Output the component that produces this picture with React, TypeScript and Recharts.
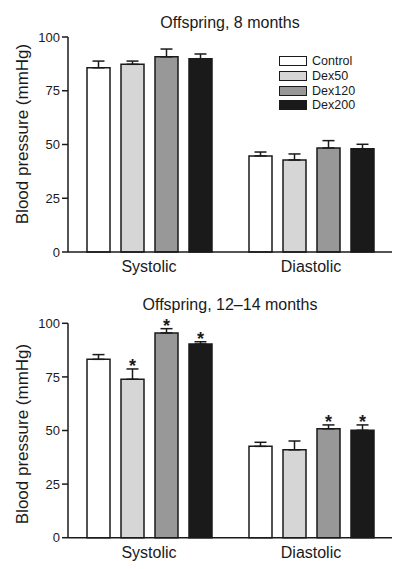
import { BarChart, Bar, XAxis, YAxis, ErrorBar, LabelList } from 'recharts'

const groups = ['Systolic', 'Diastolic']
const seriesNames = ['Control', 'Dex50', 'Dex120', 'Dex200']
const seriesFill = ['#ffffff', '#d6d6d6', '#989898', '#1a1a1a']
const yTicks = [0, 25, 50, 75, 100]

// Offspring, 8 months
const control8 = [85.7, 44.7]
const control8Err = [3.1, 1.8]
const dex50_8 = [87.3, 42.8]
const dex50_8Err = [1.5, 2.8]
const dex120_8 = [90.8, 48.4]
const dex120_8Err = [3.6, 3.4]
const dex200_8 = [89.9, 48.0]
const dex200_8Err = [2.2, 2.1]

// Offspring, 12-14 months
const control12 = [83.2, 42.6]
const control12Err = [2.2, 1.9]
const dex50_12 = [73.9, 41.0]
const dex50_12Err = [4.8, 4.1]
const dex120_12 = [95.5, 50.8]
const dex120_12Err = [2.0, 1.8]
const dex200_12 = [90.3, 50.1]
const dex200_12Err = [1.1, 2.5]

// significance markers (*) for 12-14 months
const control12Sig = [false, false]
const dex50_12Sig = [true, false]
const dex120_12Sig = [true, true]
const dex200_12Sig = [true, true]
const noSig = [false, false]

const FONT = '"Liberation Sans", Arial, Helvetica, sans-serif'
const INK = '#1a1a1a'

const buildRows = (means: number[][], errs: number[][]) =>
  groups.map((g, i) => {
    const row: any = { group: g }
    seriesNames.forEach((s, k) => {
      row[s] = means[k][i]
      row[s + '_err'] = [0, errs[k][i]]
    })
    return row
  })

const data8 = buildRows(
  [control8, dex50_8, dex120_8, dex200_8],
  [control8Err, dex50_8Err, dex120_8Err, dex200_8Err]
)
const data12 = buildRows(
  [control12, dex50_12, dex120_12, dex200_12],
  [control12Err, dex50_12Err, dex120_12Err, dex200_12Err]
)

const starLabel = (sig: boolean[], err: number[]) => (props: any) => {
  const { x, y, width, height, value, index } = props
  if (!sig[index]) return null
  const top = y - (err[index] * height) / value
  return (
    <text
      key={'star' + index}
      x={x + width / 2}
      y={top + 3.5}
      textAnchor="middle"
      fontSize={18}
      fontWeight="bold"
      fontFamily={FONT}
      fill={INK}
    >
      *
    </text>
  )
}

// legend drawn as plain html so it doesn't eat into the plot area
const LegendBox = () => (
  <div
    style={{
      position: 'absolute',
      left: 271,
      top: 46,
      fontFamily: FONT,
      fontSize: 12.5,
      color: INK,
    }}
  >
    {seriesNames.map((s, i) => (
      <div key={s} style={{ display: 'flex', alignItems: 'center', height: 14.7 }}>
        <div
          style={{
            width: 26,
            height: 8,
            background: seriesFill[i],
            border: `1.5px solid ${INK}`,
            marginRight: 5,
          }}
        />
        <span>{s}</span>
      </div>
    ))}
  </div>
)

interface PanelProps {
  title: string
  data: any[]
  height: number
  top: number
  xAxisHeight: number
  titleY: number
  yLabelY: number
  sigs: boolean[][]
  errs: number[][]
  showLegend?: boolean
}

const Panel = ({ title, data, height, top, xAxisHeight, titleY, yLabelY, sigs, errs, showLegend }: PanelProps) => (
  <div style={{ position: 'relative', width: 403, height }}>
    <div
      style={{
        position: 'absolute',
        left: 122,
        width: 200,
        top: titleY - 10,
        textAlign: 'center',
        fontFamily: FONT,
        fontSize: 16,
        color: INK,
        whiteSpace: 'nowrap',
        lineHeight: '20px',
      }}
    >
      {title}
    </div>
    <div
      style={{
        position: 'absolute',
        left: 15 - 110,
        top: yLabelY - 10,
        width: 220,
        height: 20,
        lineHeight: '20px',
        textAlign: 'center',
        transform: 'rotate(-90deg)',
        fontFamily: FONT,
        fontSize: 17,
        color: INK,
        whiteSpace: 'nowrap',
      }}
    >
      Blood pressure (mmHg)
    </div>
    {showLegend && <LegendBox />}
    <BarChart
      width={403}
      height={height}
      data={data}
      margin={{ top, right: 19, bottom: 0, left: 20 }}
      barSize={23}
      barGap={11}
    >
      <XAxis
        dataKey="group"
        height={xAxisHeight}
        tickLine={false}
        tickMargin={3}
        axisLine={{ stroke: INK, strokeWidth: 1.5 }}
        tick={{ fill: INK, fontSize: 16, fontFamily: FONT }}
      />
      <YAxis
        width={40}
        domain={[0, 100]}
        ticks={yTicks}
        axisLine={{ stroke: INK, strokeWidth: 1.5 }}
        tickLine={{ stroke: INK, strokeWidth: 1.5 }}
        tickSize={6}
        tick={{ fill: INK, fontSize: 13, fontFamily: FONT }}
      />
      {seriesNames.map((s, k) => (
        <Bar
          key={s}
          dataKey={s}
          fill={seriesFill[k]}
          stroke={INK}
          strokeWidth={1.5}
          isAnimationActive={false}
        >
          <ErrorBar dataKey={s + '_err'} width={6} stroke={INK} strokeWidth={1.5} direction="y" />
          <LabelList dataKey={s} content={starLabel(sigs[k], errs[k])} />
        </Bar>
      ))}
    </BarChart>
  </div>
)

export default function App() {
  return (
    <div style={{ width: 403 }}>
      <Panel
        title="Offspring, 8 months"
        data={data8}
        height={272}
        top={29}
        xAxisHeight={28}
        titleY={15}
        yLabelY={126}
        sigs={[noSig, noSig, noSig, noSig]}
        errs={[control8Err, dex50_8Err, dex120_8Err, dex200_8Err]}
        showLegend
      />
      <Panel
        title="Offspring, 12–14 months"
        data={data12}
        height={289}
        top={43.3}
        xAxisHeight={31.3}
        titleY={25}
        yLabelY={154}
        sigs={[control12Sig, dex50_12Sig, dex120_12Sig, dex200_12Sig]}
        errs={[control12Err, dex50_12Err, dex120_12Err, dex200_12Err]}
      />
    </div>
  )
}
